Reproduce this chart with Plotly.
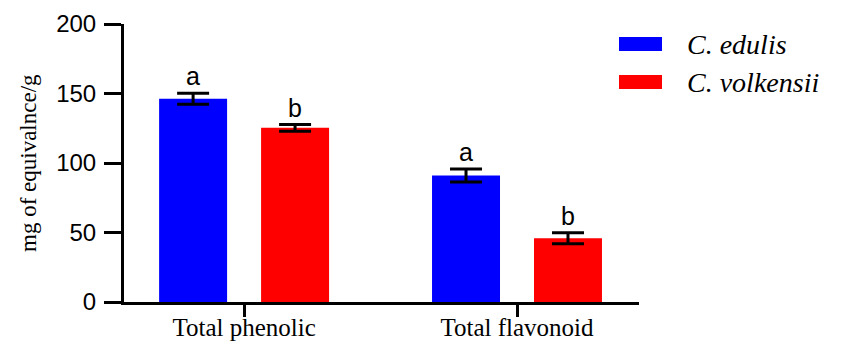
import plotly.graph_objects as go

categories = ["Total phenolic", "Total flavonoid"]
species = ["C. edulis", "C. volkensii"]
edulis_values = [146.2, 91.0]
edulis_errors = [4.0, 4.6]
volkensii_values = [125.3, 45.9]
volkensii_errors = [2.4, 4.0]
edulis_letters = ["a", "a"]
volkensii_letters = ["b", "b"]
y_ticks = [0, 50, 100, 150, 200]
y_title = "mg of equivalnce/g"

colors = ["#0000FF", "#FF0000"]
x_pos = list(range(len(categories)))

fig = go.Figure()
series = [
    (edulis_values, edulis_errors, edulis_letters),
    (volkensii_values, volkensii_errors, volkensii_letters),
]
for i, (vals, errs, letters) in enumerate(series):
    fig.add_trace(go.Bar(
        x=x_pos, y=vals, name=species[i],
        marker=dict(color=colors[i], line=dict(width=0)),
        error_y=dict(type="data", array=errs, visible=True, color="black",
                     thickness=3, width=16),
        showlegend=False,
    ))

# significance letters
slot = 102 / 273.0
offsets = [-slot / 2, slot / 2]
for i, (vals, errs, letters) in enumerate(series):
    for j in range(len(categories)):
        fig.add_annotation(
            x=x_pos[j] + offsets[i], y=vals[j] + errs[j], text=letters[j],
            showarrow=False, xanchor="center", yanchor="bottom", yshift=1,
            font=dict(family="Liberation Sans, Arial", size=25, color="black"),
        )

# legend (manual swatches)
legend_y = [44, 82]
for i in range(2):
    fig.add_shape(type="rect", xref="paper", yref="paper",
                  x0=(619 - 124) / 515.0, x1=(662 - 124) / 515.0,
                  y0=1 - (legend_y[i] + 7 - 24) / 278.0,
                  y1=1 - (legend_y[i] - 7 - 24) / 278.0,
                  fillcolor=colors[i], line=dict(width=0), layer="above")
    fig.add_annotation(xref="paper", yref="paper",
                       x=(685 - 124) / 515.0, y=1 - (legend_y[i] - 24) / 278.0,
                       text="<i>" + species[i] + "</i>", showarrow=False,
                       xanchor="left", yanchor="middle",
                       font=dict(family="Liberation Serif", size=28, color="black"))

# y-axis title
fig.add_annotation(xref="paper", yref="paper",
                   x=(28 - 124) / 515.0, y=1 - (163 - 24) / 278.0,
                   text=y_title, textangle=-90, showarrow=False,
                   xanchor="center", yanchor="middle",
                   font=dict(family="Liberation Serif", size=23, color="black"))

fig.update_layout(
    width=847, height=341,
    margin=dict(l=124, r=208, t=24, b=39),
    plot_bgcolor="white", paper_bgcolor="white",
    barmode="group", bargap=1 - 204 / 273.0, bargroupgap=1 / 3.0,
    font=dict(family="Liberation Sans, Arial", color="black"),
)
fig.update_xaxes(
    range=[-0.44, 1.447], tickvals=x_pos, ticktext=categories,
    showline=True, linecolor="black", linewidth=3,
    ticks="outside", ticklen=12, tickwidth=3, tickcolor="black",
    tickfont=dict(family="Liberation Serif", size=25, color="black"),
    ticklabelstandoff=-11,
    showgrid=False, zeroline=False, automargin=False,
)
fig.update_yaxes(
    range=[0, 200], tickvals=y_ticks,
    showline=True, linecolor="black", linewidth=3,
    ticks="outside", ticklen=17, tickwidth=3, tickcolor="black",
    tickfont=dict(family="Liberation Sans, Arial", size=24, color="black"),
    ticklabelstandoff=3,
    showgrid=False, zeroline=False, automargin=False,
)

fig.write_html("out.html")
